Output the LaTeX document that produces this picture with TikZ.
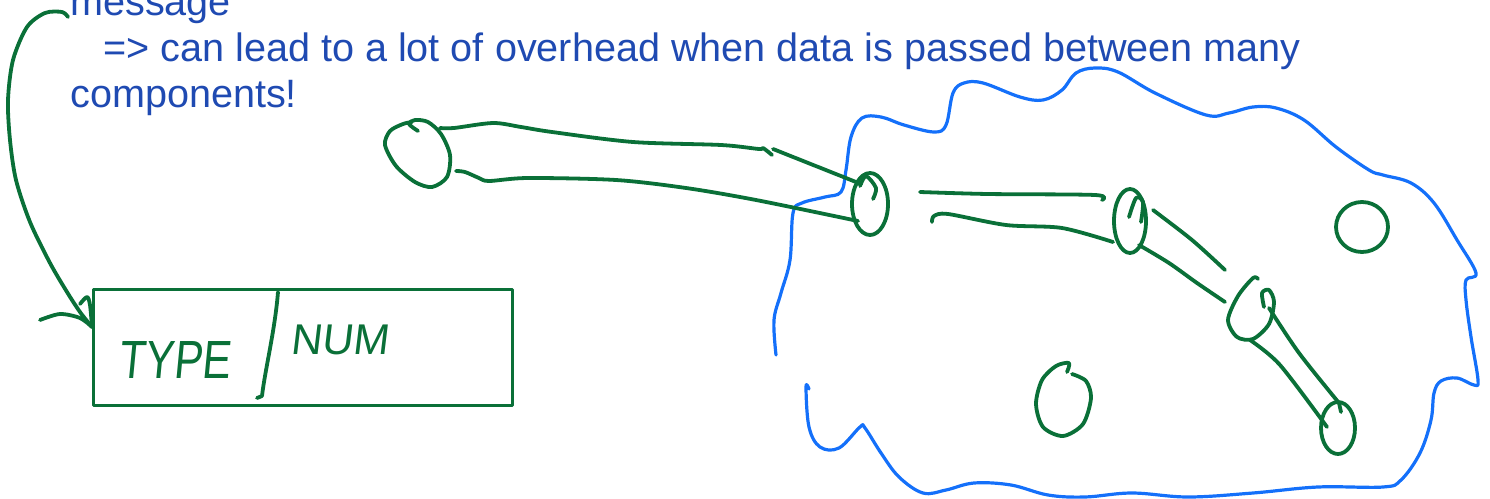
\documentclass[tikz,border=0pt]{standalone}
\usepackage{fontspec}
\setmainfont{Liberation Sans}
\newfontfamily\handfont[FakeSlant=0.12]{Liberation Sans}
\definecolor{txtblue}{HTML}{1F4AB2}
\definecolor{cloudblue}{HTML}{1470FA}
\definecolor{pen}{HTML}{0A7038}
\begin{document}
\begin{tikzpicture}[x=1pt,y=-1pt,line cap=round,line join=round,
  ink/.style={draw=pen,line width=3.8pt},
  cloudline/.style={draw=cloudblue,line width=3.2pt},
  lbl/.style={text=txtblue,font=\fontsize{39.6}{45}\selectfont,anchor=base west,inner sep=0pt},
  hand/.style={text=pen,font=\handfont\fontsize{43}{48}\selectfont,anchor=base west,inner sep=0pt},
  comp/.style={ink}]
\clip (0,0) rectangle (1490,498);
\useasboundingbox (0,0) rectangle (1490,498);

% text
\node[lbl] (l1) at (70,15) {message};
\node[lbl] (l2) at (103,61) {=> can lead to a lot of overhead when data is passed between many};
\node[lbl] (l3) at (70,107) {components!};

% message box
\node[draw=pen,line width=3.2pt,minimum width=419pt,minimum height=116pt,anchor=north west,inner sep=0pt] (box) at (92,288) {};
\draw[ink] (278,292) .. controls (275,330) and (265,370) .. (262,396) -- (257,398);
\node[hand] (type) at (118,378) {\scalebox{1}[1.25]{TYPE}};
\node[hand] (num) at (290,354) {NUM};

% arrow from text to box
\coordinate (a0) at (68,17);
\coordinate (a1) at (92,327);
\draw[ink] plot[smooth] coordinates {(a0) (62,12) (45,13) (27,27) (13,60) (8,100) (10,140) (16,180) (30,222) (50,263) (67,292) (80,312) (a1)};
\draw[ink] plot[smooth] coordinates {(40,320) (60,314) (80,318) (a1)};
\draw[ink] plot[smooth] coordinates {(80,304) (87,297) (90,305) (a1)};

% cloud
\draw[cloudline] plot[smooth,tension=0.6] coordinates {(776,355) (774,320) (781,293) (790,260) (793,213) (802,203) (825,197) (841,192) (846,170) (851,137) (862,118) (881,117) (904,125) (934,132) (946,125) (953,93) (964,83) (983,83) (1020,97) (1043,100) (1062,90) (1076,73) (1095,68) (1118,72) (1155,93) (1206,115) (1229,113) (1253,107) (1276,108) (1304,120) (1336,147) (1369,170) (1383,175) (1411,183) (1434,203) (1457,240) (1476,273) (1466,280) (1466,300) (1471,337) (1478,380) (1474,385) (1457,378) (1441,381) (1434,393) (1431,420) (1420,453) (1401,480) (1383,487) (1318,487) (1253,493) (1188,497) (1132,493) (1085,497) (1048,495) (1011,485) (974,483) (946,490) (923,493) (899,477) (881,453) (865,428) (860,427) (839,448) (820,447) (809,427) (806,387) (809,389)};

% component ellipses
\draw[comp] plot[smooth] coordinates {(418,131) (409,124) (415,120) (428,122) (441,134) (450,155) (447,177) (432,187) (415,182) (396,166) (385,145) (390,131) (403,124) (412,122)};
\draw[comp] (870,204) ellipse[x radius=18pt,y radius=31pt];
\draw[comp] plot[smooth] coordinates {(860,186) (866,176) (876,188) (873,199)};
\draw[comp] (1130,221) ellipse[x radius=16pt,y radius=32pt];
\draw[comp] plot[smooth] coordinates {(1129,217) (1136,198) (1143,202) (1141,222)};
\draw[comp] plot[smooth] coordinates {(1258,279) (1253,278) (1238,296) (1228,320) (1237,337) (1253,339) (1269,324) (1274,302) (1269,290) (1262,293) (1264,307)};
\draw[comp] (1338,428) ellipse[x radius=17pt,y radius=26pt];
\draw[comp] plot[smooth] coordinates {(1339,403) (1341,412)};
\draw[comp] (1362,227) ellipse[x radius=26pt,y radius=25pt];
\draw[comp] plot[smooth] coordinates {(1067,372) (1069,363) (1056,366) (1042,380) (1036,404) (1043,427) (1063,436) (1083,424) (1091,398) (1086,381) (1072,374)};

% pipes
\draw[ink] plot[smooth] coordinates {(440,128) (454,128) (493,123) (521,127) (552,132) (633,142) (721,145) (759,149) (763,148) (772,155)};
\draw[ink] (773,149) -- (861,184);
\draw[ink] plot[smooth] coordinates {(456,171) (465,172) (479,178) (489,181) (528,178) (616,180) (686,188) (756,200) (858,221)};
\draw[ink] plot[smooth] coordinates {(920,192) (988,194) (1095,195) (1102,200)};
\draw[ink] plot[smooth] coordinates {(932,222) (934,216) (948,214) (1006,225) (1062,228) (1113,242)};
\draw[ink] plot[smooth] coordinates {(1153,210) (1192,240) (1225,270)};
\draw[ink] plot[smooth] coordinates {(1139,245) (1169,263) (1197,283) (1225,302)};
\draw[ink] plot[smooth] coordinates {(1269,308) (1299,353) (1339,403)};
\draw[ink] plot[smooth] coordinates {(1250,340) (1280,365) (1327,427)};
\end{tikzpicture}
\end{document}
